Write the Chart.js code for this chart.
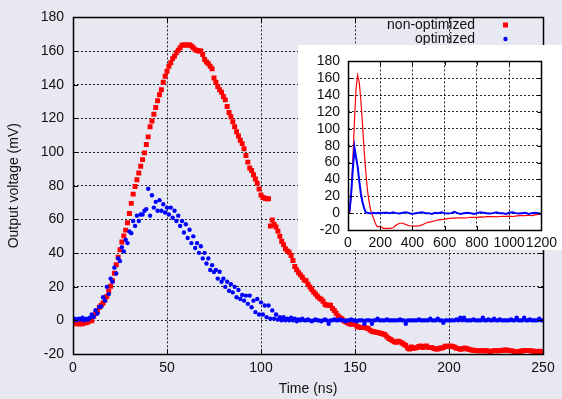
<!DOCTYPE html>
<html>
<head>
<meta charset="utf-8">
<script src="https://cdn.jsdelivr.net/npm/chart.js@4.4.1/dist/chart.umd.min.js"></script>
<style>
  html, body { margin: 0; padding: 0; background: #e8e8f2; }
  #wrap { position: relative; width: 562px; height: 399px; overflow: hidden; }
  #main { position: absolute; left: 0; top: 0; }
  #insetBox { position: absolute; left: 298px; top: 45px; width: 264px; height: 205px; background: #ffffff; }
</style>
</head>
<body>
<div id="wrap">
  <canvas id="main" width="562" height="399"></canvas>
  <div id="insetBox"><canvas id="inset" width="264" height="205"></canvas></div>
</div>
<script>
// ---------------- data ----------------
const seriesNames = ['non-optimized', 'optimized'];
const xTitle = 'Time (ns)';
const yTitle = 'Output voltage (mV)';

// sample times (ns) of the main view, one sample per ns
const timeNs = Array.from({ length: 251 }, (_, i) => i);

// non-optimized (red squares), mV
const redVolt = [
  0, -1.5, -2, -2, -2, -2, -1.5, -1.5, -1, 0,
  -0.3, 2.5, 4, 5.5, 7.8, 9, 10.3, 12, 14.2, 17.2,
  20.2, 23.5, 28, 33, 37.5, 42, 46.5, 50.2, 53.6, 58,
  63.5, 69.5, 75, 79.5, 83.5, 87.5, 91.5, 95.5, 99.5, 104.5,
  109, 115, 118.5, 122.5, 126.5, 130.5, 134, 137, 141.5, 145,
  148, 151, 153, 155.5, 157, 159, 160.5, 162, 163.5, 163.6,
  163.6, 163.6, 163.6, 163, 162, 160.8, 160.3, 160, 160, 158,
  155, 153.5, 152.5, 151, 149.5, 144, 141.5, 139, 137, 135.5,
  133, 131, 127, 123.5, 121, 118, 115, 112, 109.5, 107,
  105, 102, 98, 94, 90.5, 89, 86.5, 84, 81.5, 78,
  74.5, 73, 72.5, 72.3, 72.2, 56, 59.6, 57, 55.5, 53,
  50, 47, 45, 42.5, 41.2, 40.5, 38.5, 35.6, 32, 30,
  28.3, 27, 25.6, 24, 23.5, 21.5, 19.8, 18.3, 16.8, 15.6,
  14.3, 13.2, 12.5, 11.3, 9.6, 9, 9, 9, 7, 5.8,
  4.2, 2.6, 1.6, 0.8, -0.3, -0.8, -1.5, -2, -2.3, -2.2,
  -2, -3.5, -4, -4.3, -4.3, -4.3, -4.6, -4.9, -5.8, -6.5,
  -6.8, -7, -7.2, -7.5, -7.8, -8.1, -8.6, -9.8, -10.8, -11.4,
  -12.2, -12.8, -13.1, -12.4, -12.8, -13.5, -14.2, -15, -16.5, -17,
  -15.8, -16.6, -16.4, -16.2, -15.5, -15.3, -16.2, -15.5, -15.3, -16.2,
  -16.2, -16.2, -16.8, -17, -17, -16.6, -16.4, -16.2, -15.4, -15.4,
  -15.6, -15.2, -15.6, -16, -16.6, -16.8, -17.2, -17, -16.6, -16.6,
  -17, -17.4, -17.6, -17.8, -18, -18, -18.2, -18, -18, -18.2,
  -18, -18.3, -18.6, -18.3, -18, -18, -18.2, -18, -18, -17.8,
  -17.6, -17.8, -18, -18, -18.3, -18.6, -18.6, -18.6, -18.4, -18.2,
  -18, -18, -18, -18, -18.2, -18.4, -18.6, -18.6, -18.4, -18.6,
  -18.6
];

// optimized (blue dots), mV
const blueVolt = [
  0.5, 1, 0, 1, 0.5, 1.5, 0, 1, 0.5, 1.5,
  3.5, 2, 6, 4, 8, 8.2, 13.7, 11.7, 19.9, 15.6,
  24.8, 22.9, 31.3, 27.8, 36.8, 35.2, 43.4, 41, 47.9, 45.9,
  52.8, 51.8, 59, 56.1, 62.2, 59, 62.9, 62.9, 65.1, 66.1,
  78.2, 62.2, 74.3, 67, 70.4, 65.1, 71.4, 65.1, 69, 64.1,
  67, 62.9, 67, 61, 65.1, 59, 62.2, 56.1, 59, 52.2,
  57.1, 48.9, 53.8, 45.9, 49.9, 43, 45.9, 40.1, 44, 36.8,
  40.1, 33.8, 36.8, 29.9, 32.8, 28.7, 29.9, 24.8, 28.9, 22.9,
  24.8, 19.9, 22.9, 17.6, 21.5, 16.6, 19.9, 13.7, 18, 12.7,
  15.1, 11.7, 14.7, 9.8, 14.7, 7.8, 11.7, 4.9, 12.7, 3.5,
  10.7, 3.5, 8.8, 1.9, 8.8, 1, 5.9, 1, 3.5, 0.4,
  1.9, 0, 1.9, 0, 1, 0, 1.5, 0, 1, -0.5,
  0.5, 0, 1, 0, 0, 0.5, 0, -0.5, 0, 0.5,
  0, 0, -0.5, 0, 0.5, 0, -2, 0, 0, 0.5,
  0, 0, 0.5, 0, 0, -0.5, 0, 0, 0.5, 0,
  0, -0.5, 0, 0, 0, -2, 0, 0, 0, -2,
  0, 0, 1, 0, 0, 0, 0, 0.5, 0, 0,
  0, 0, 0, 0, 0.5, 0, 0, -2, 0, 0,
  0, 0, 0, 0, 0.5, 0, 0, 0, 0, 0,
  1, 0, 0, 0, 1, 0, 0, -1.5, 0, 0,
  0, 0, 0, 0, 0.5, 0, 1.6, 0, 1.6, 0,
  0, 0, 0, 0.5, 0, 0, 0, 0, 1.6, 0,
  0, 0.5, 0, 0, 1, 0, 0, 0.5, 0, 0,
  0, 0, 0, 0.5, 0, 0, 1.6, 0, 0, 0,
  1.6, 0, 0, 0.5, 0, 0, 0, 0, 1, 0,
  0
];

// inset: the full 0-1200 ns record
const insetTimeNs = [0, 10, 20, 30, 40, 50, 60, 70, 80, 90, 100, 110, 120, 130, 140, 150,
  160, 170, 180, 190, 200, 220, 240, 260, 280, 300, 320, 340, 360, 380, 400, 420,
  440, 460, 480, 500, 520, 540, 560, 580, 600, 620, 640, 660, 680, 700, 720, 740,
  760, 780, 800, 820, 840, 860, 880, 900, 920, 940, 960, 980, 1000, 1020, 1040, 1060,
  1080, 1100, 1120, 1140, 1160, 1180, 1200];
const insetRedVolt = [0, -0.3, 20.2, 63.5, 109, 148, 163.6, 155, 133, 105, 74.5, 50, 28.3, 14.3, 4.2, -2,
  -6.8, -12.2, -15.8, -16.2, -15.6, -18, -18, -18, -17.4, -14, -12, -12, -13.6, -15, -15.5, -15.5,
  -15, -14, -12, -10.6, -10, -9, -8, -7.8, -7, -6.5, -6, -6, -5.7, -5.5, -6, -5.5,
  -5, -5, -5, -4.5, -4.8, -4.2, -4.2, -4, -4.5, -4, -3.8, -3.8, -3.5, -4, -3.5, -3,
  -3, -3, -2.5, -3, -2, -1.5, -1];
const insetBlueVolt = [0.5, 3, 24, 52, 78, 66, 55, 38, 23, 13, 6, 1, 0.5, 0, 0, 0,
  0.5, 0, 0, 0.5, 0, 0.5, 0.5, 0, 1, 0, -0.5, 0.5, 1, 0, -1, 0,
  0.5, 1, 0, 0, -1, 0.5, 0, 1, 0, -0.5, 0, 1.5, 0, -1, 0, 0.5,
  0, -1, 0, 1, 0.5, 0, -0.5, 0, 1, 0, 0, -1, 0.5, 1, 0, -0.5,
  0, 0.5, -1, 0, 0.5, 0, -1];

// axis ticks
const mainXTicks = [0, 50, 100, 150, 200, 250];
const mainYTicks = [-20, 0, 20, 40, 60, 80, 100, 120, 140, 160, 180];
const insetXTicks = [0, 200, 400, 600, 800, 1000, 1200];
const insetYTicks = [-20, 0, 20, 40, 60, 80, 100, 120, 140, 160, 180];

// ---------------- drawing ----------------
const FONT = "'Liberation Sans', Arial, Helvetica, sans-serif";
Chart.defaults.font.family = FONT;
Chart.defaults.font.size = 14;
Chart.defaults.color = '#111';

const RED = '#ff0000';
const BLUE = '#0000ff';

const toPts = (ts, vs) => ts.map((t, i) => ({ x: t, y: vs[i] }));

const framePlugin = {
  id: 'gpframe',
  afterDatasetsDraw(chart, args, opts) {
    const { ctx, chartArea: a, scales } = chart;
    const xs = scales.x, ys = scales.y;
    ctx.save();
    ctx.strokeStyle = '#000';
    ctx.lineWidth = 1;
    const L = opts.tick || 5;
    ctx.beginPath();
    xs.ticks.forEach(t => {
      const p = Math.round(xs.getPixelForValue(t.value)) + 0.5;
      ctx.moveTo(p, a.bottom); ctx.lineTo(p, a.bottom - L);
      ctx.moveTo(p, a.top); ctx.lineTo(p, a.top + L);
    });
    ys.ticks.forEach(t => {
      const p = Math.round(ys.getPixelForValue(t.value)) + 0.5;
      ctx.moveTo(a.left, p); ctx.lineTo(a.left + L, p);
      ctx.moveTo(a.right, p); ctx.lineTo(a.right - L, p);
    });
    ctx.stroke();
    ctx.lineWidth = opts.width || 1.5;
    ctx.strokeRect(Math.round(a.left) + 0.5, Math.round(a.top) + 0.5,
      Math.round(a.right - a.left), Math.round(a.bottom - a.top));
    ctx.restore();
  }
};

const legendPlugin = {
  id: 'gplegend',
  afterDraw(chart) {
    const { ctx } = chart;
    const ds = chart.data.datasets;
    ctx.save();
    ctx.font = '14px ' + FONT;
    ctx.textAlign = 'right';
    ctx.textBaseline = 'middle';
    const rows = [{ d: ds.find(d => d.label === seriesNames[0]), y: 25 },
                  { d: ds.find(d => d.label === seriesNames[1]), y: 39 }];
    rows.forEach(r => {
      ctx.fillStyle = '#111';
      ctx.fillText(r.d.label, 475, r.y);
      ctx.fillStyle = r.d.backgroundColor;
      if (r.d.pointStyle === 'rect') {
        ctx.fillRect(503, r.y - 2.5, 5, 5);
      } else {
        ctx.beginPath(); ctx.arc(505.5, r.y, 2.2, 0, Math.PI * 2); ctx.fill();
      }
    });
    ctx.restore();
  }
};

function axis(min, max, ticksArr) {
  return {
    type: 'linear', min: min, max: max,
    afterBuildTicks: s => { s.ticks = ticksArr.map(v => ({ value: v })); },
    ticks: { autoSkip: false, maxRotation: 0, minRotation: 0, color: '#111', font: { size: 14 },
             callback: v => String(v) },
    grid: { color: 'rgba(0,0,0,0.85)', lineWidth: 1, drawTicks: false },
    border: { display: false, dash: [2, 2] }
  };
}

new Chart(document.getElementById('main'), {
  type: 'scatter',
  data: {
    datasets: [
      { label: seriesNames[0], data: toPts(timeNs, redVolt), pointStyle: 'rect', pointRadius: 3.5,
        backgroundColor: RED, borderWidth: 0, order: 2 },
      { label: seriesNames[1], data: toPts(timeNs, blueVolt), pointStyle: 'circle', pointRadius: 2.2,
        backgroundColor: BLUE, borderWidth: 0, order: 1 }
    ]
  },
  options: {
    responsive: false, animation: false, devicePixelRatio: 1,
    layout: { padding: { left: 0, right: 19, top: 13, bottom: 0 } },
    plugins: { legend: { display: false }, tooltip: { enabled: false }, gpframe: { tick: 5, width: 1.5 } },
    elements: { point: { hoverRadius: 0 } },
    scales: {
      x: (() => { const a = axis(0, 250, mainXTicks);
        a.ticks.padding = 6;
        a.title = { display: true, text: xTitle, color: '#111', font: { size: 14 }, padding: { top: 0, bottom: 1.5 } };
        a.afterFit = s => { s.height = 45; };
        return a; })(),
      y: (() => { const a = axis(-20, 180, mainYTicks);
        a.ticks.padding = 9;
        a.title = { display: true, text: yTitle, color: '#111', font: { size: 14 }, padding: { top: 6, bottom: 0 } };
        a.afterFit = s => { s.width = 73; };
        return a; })()
    }
  },
  plugins: [framePlugin, legendPlugin]
});

new Chart(document.getElementById('inset'), {
  type: 'scatter',
  data: {
    datasets: [
      { label: seriesNames[0], data: toPts(insetTimeNs, insetRedVolt),
        showLine: true, pointRadius: 0, borderColor: RED, borderWidth: 1.2, order: 2 },
      { label: seriesNames[1], data: toPts(insetTimeNs, insetBlueVolt),
        showLine: true, pointRadius: 0, borderColor: BLUE, borderWidth: 2, order: 1 }
    ]
  },
  options: {
    responsive: false, animation: false, devicePixelRatio: 1,
    layout: { padding: { left: 0, right: 20, top: 8, bottom: 0 } },
    plugins: { legend: { display: false }, tooltip: { enabled: false }, gpframe: { tick: 4, width: 1.5 } },
    scales: {
      x: (() => { const a = axis(0, 1200, insetXTicks);
        a.ticks.padding = 5;
        a.afterFit = s => { s.height = 20; };
        return a; })(),
      y: (() => { const a = axis(-20, 180, insetYTicks);
        a.ticks.padding = 8;
        a.afterFit = s => { s.width = 50; };
        return a; })()
    }
  },
  plugins: [framePlugin]
});
</script>
</body>
</html>
